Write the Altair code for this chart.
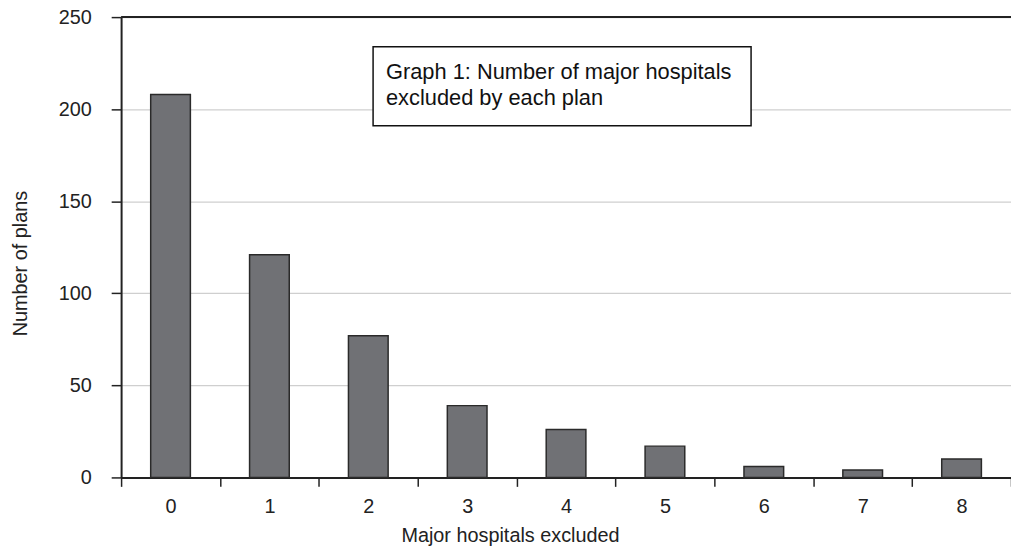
import altair as alt
import pandas as pd

categories = ["0", "1", "2", "3", "4", "5", "6", "7", "8"]
plans = [208, 121, 77, 39, 26, 17, 6, 4, 10]
y_ticks = [0, 50, 100, 150, 200, 250]
note_text = "Graph 1: Number of major hospitals\nexcluded by each plan"

df = pd.DataFrame({"excluded": categories, "plans": plans})
top_df = pd.DataFrame({"top": [max(y_ticks)], "note": [note_text]})

FONT = "Liberation Sans"
W, H = 897, 464

bars = alt.Chart(df).mark_bar(
    color="#707175", stroke="#2a2a2a", strokeWidth=1.5, size=40
).encode(
    x=alt.X("excluded:N", sort=categories, title="Major hospitals excluded",
            scale=alt.Scale(paddingInner=0, paddingOuter=0),
            axis=alt.Axis(labelAngle=0, tickBand="extent", domainColor="#222", domainWidth=2,
                          tickColor="#222", tickSize=9, tickWidth=1.5, labelPadding=10,
                          labelFontSize=20, labelColor="#222", titleFontSize=20,
                          titleFontWeight="normal", titleColor="#222",
                          titleX=392, titleY=65, titleBaseline="alphabetic", titleAlign="center",
                          labelFont=FONT, titleFont=FONT)),
    y=alt.Y("plans:Q", title="Number of plans",
            scale=alt.Scale(domain=[0, max(y_ticks)], nice=False),
            axis=alt.Axis(values=y_ticks, domainColor="#222", domainWidth=2, tickColor="#222",
                          tickSize=10, tickWidth=1.5, labelPadding=20, labelFontSize=20,
                          labelColor="#222", titleFontSize=20, titleFontWeight="normal",
                          titleColor="#222", gridColor="#cfcfcf", gridWidth=1.2,
                          titleX=-95, titleY=248, titleBaseline="alphabetic",
                          labelFont=FONT, titleFont=FONT)),
)

top_rule = alt.Chart(top_df).mark_rule(color="#222", strokeWidth=2).encode(
    y=alt.Y("top:Q", scale=alt.Scale(domain=[0, max(y_ticks)], nice=False))
)

box = alt.Chart(top_df).mark_rect(fill="white", stroke="#111", strokeWidth=1.5).encode(
    x=alt.value(254), x2=alt.value(635), y=alt.value(30), y2=alt.value(109.5)
)

note = alt.Chart(top_df).mark_text(
    align="left", baseline="alphabetic", font=FONT, fontSize=22, color="#111",
    lineBreak="\n", lineHeight=26.5
).encode(
    x=alt.value(267), y=alt.value(62), text="note:N",
)

chart = alt.layer(bars, top_rule, box, note).properties(
    width=W, height=H,
    autosize=alt.AutoSizeParams(type="none"),
    padding={"left": 114, "top": 7, "right": 0, "bottom": 75},
).configure_view(stroke=None).configure_axis(grid=True).configure_axisX(grid=False)

chart.save("out.html", embed_options={"renderer": "svg", "actions": False})
